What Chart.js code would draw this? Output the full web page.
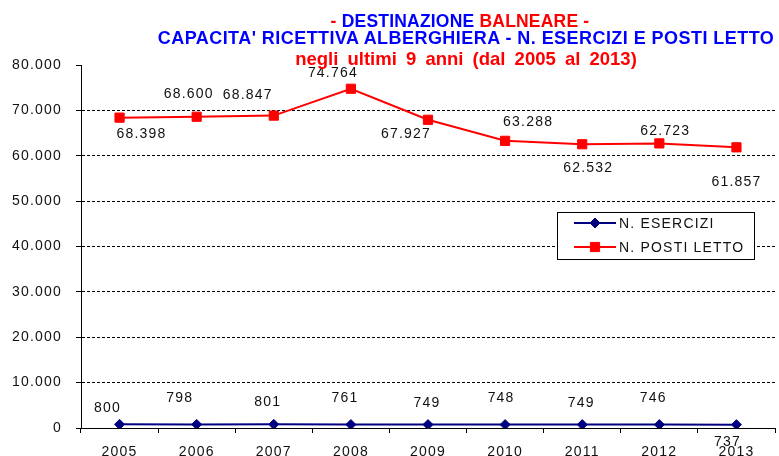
<!DOCTYPE html>
<html>
<head>
<meta charset="utf-8">
<script src="https://cdn.jsdelivr.net/npm/chart.js@4"></script>
<style>
  html, body { margin:0; padding:0; background:#fff; overflow:hidden; }
  #wrap { position:relative; width:779px; height:472px; }
  .t { position:absolute; white-space:nowrap; text-align:center; font-family:"Liberation Sans", Arial, sans-serif; font-weight:bold; line-height:20px; }
  .blue { color:#0000ff; }
  .red { color:#ff0000; }
</style>
</head>
<body>
<div id="wrap">
  <canvas id="chart"></canvas>
  <div class="t" style="left:60px;width:800px;top:11px;font-size:17.5px;letter-spacing:0.2px;"><span class="red">- </span><span class="blue">DESTINAZIONE </span><span class="red">BALNEARE -</span></div>
  <div class="t blue" style="left:66px;width:800px;top:28px;font-size:18px;letter-spacing:0.45px;">CAPACITA' RICETTIVA ALBERGHIERA - N. ESERCIZI E POSTI LETTO</div>
  <div class="t red" style="left:66px;width:800px;top:49px;font-size:18.5px;word-spacing:4px;">negli ultimi 9 anni (dal 2005 al 2013)</div>
</div>
<script>
// ==== Dati ====
const years = ['2005','2006','2007','2008','2009','2010','2011','2012','2013'];
const esercizi = [800, 798, 801, 761, 749, 748, 749, 746, 737];
const postiLetto = [68398, 68600, 68847, 74764, 67927, 63288, 62532, 62723, 61857];
const yTicks = [0, 10000, 20000, 30000, 40000, 50000, 60000, 70000, 80000];

const FONT = '"Liberation Sans", Arial, sans-serif';

function fmt(v){
  return String(v).replace(/\B(?=(\d{3})+(?!\d))/g, '.');
}

// spostamento etichette (come trascinate a mano in Excel)
const labelShift = {
  0: [[-12,-16],[-17,-26],[-6,-22],[-6,-26],[-1,-21],[-4,-26],[-1,-21],[-6,-26],[-9,17]],
  1: [[22,16],[-8,-23],[-26,-20],[-18,-16],[-22,14],[23,-19],[6,24],[6,-12],[0,35]]
};

const spacingPlugin = {
  id:'spacing',
  beforeInit(chart){ chart.ctx.letterSpacing = '1.2px'; },
  beforeDraw(chart){ chart.ctx.letterSpacing = '1.2px'; }
};

const valueLabels = {
  id:'valueLabels',
  afterDatasetsDraw(chart){
    const ctx = chart.ctx;
    ctx.save();
    ctx.font = '14px ' + FONT;
    ctx.fillStyle = '#111';
    ctx.textAlign = 'center';
    ctx.textBaseline = 'middle';
    chart.data.datasets.forEach((ds, i) => {
      chart.getDatasetMeta(i).data.forEach((pt, j) => {
        const s = labelShift[i][j];
        ctx.fillText(fmt(ds.data[j]), pt.x + s[0], pt.y + s[1]);
      });
    });
    ctx.restore();
  }
};

const boxLegend = {
  id:'boxLegend',
  afterDraw(chart){
    const ctx = chart.ctx;
    const x = 557, y = 212, w = 197, h = 47;
    ctx.save();
    ctx.fillStyle = '#fff';
    ctx.fillRect(x, y, w, h);
    ctx.strokeStyle = '#000';
    ctx.lineWidth = 1;
    ctx.strokeRect(x + 0.5, y + 0.5, w, h);
    ctx.font = '14px ' + FONT;
    ctx.textAlign = 'left';
    ctx.textBaseline = 'middle';
    chart.data.datasets.forEach((ds, i) => {
      const ry = y + 11 + i * 24;
      ctx.strokeStyle = ds.borderColor;
      ctx.lineWidth = 2;
      ctx.beginPath();
      ctx.moveTo(x + 17, ry);
      ctx.lineTo(x + 59, ry);
      ctx.stroke();
      ctx.fillStyle = ds.pointBackgroundColor;
      ctx.strokeStyle = ds.pointBorderColor;
      ctx.lineWidth = 1;
      Chart.helpers.drawPoint(ctx, {
        pointStyle: ds.pointStyle, radius: ds.pointRadius, borderWidth: 1, rotation: 0
      }, x + 38, ry);
      ctx.fillStyle = '#111';
      ctx.fillText(ds.label, x + 62, ry + 1);
    });
    ctx.restore();
  }
};

const ctx = document.getElementById('chart').getContext('2d');
const chart = new Chart(ctx, {
  type:'line',
  data:{
    labels: years,
    datasets:[
      {
        label:'N. ESERCIZI',
        data: esercizi,
        borderColor:'#000080',
        backgroundColor:'#000080',
        pointBackgroundColor:'#000080',
        pointBorderColor:'#000080',
        pointStyle:'rectRot',
        pointRadius:5,
        pointBorderWidth:1,
        borderWidth:2,
        tension:0
      },
      {
        label:'N. POSTI LETTO',
        data: postiLetto,
        borderColor:'#ff0000',
        backgroundColor:'#ff0000',
        pointBackgroundColor:'#ff0000',
        pointBorderColor:'#ff0000',
        pointStyle:'rect',
        pointRadius:6.5,
        pointBorderWidth:1,
        borderWidth:2,
        tension:0
      }
    ]
  },
  options:{
    responsive:true,
    maintainAspectRatio:false,
    animation:false,
    layout:{ autoPadding:false, padding:{ top:65, right:4, left:0, bottom:0 } },
    plugins:{ legend:{display:false}, title:{display:false}, tooltip:{enabled:false} },
    scales:{
      x:{
        offset:true,
        grid:{ offset:true, drawOnChartArea:false, color:'#000', tickLength:5 },
        border:{ color:'#000', width:1 },
        ticks:{ color:'#111', font:{ family:FONT, size:14 }, padding:11, maxRotation:0 },
        afterFit(s){ s.height = 44; s.paddingLeft = 0; s.paddingRight = 0; }
      },
      y:{
        min:0, max:80000,
        afterBuildTicks(s){ s.ticks = yTicks.map(v => ({value:v})); },
        grid:{
          color:c => (c.tick && (c.tick.value === 0 || c.tick.value === 80000)) ? 'rgba(0,0,0,0)' : '#000',
          tickColor:'#000',
          tickLength:5,
          lineWidth:1
        },
        border:{ color:'#000', width:1, dash:[3,2] },
        ticks:{ color:'#111', font:{ family:FONT, size:14 }, padding:14, callback:v => fmt(v) },
        afterFit(s){ s.width = 81; }
      }
    }
  },
  plugins:[spacingPlugin, valueLabels, boxLegend]
});
</script>
</body>
</html>
